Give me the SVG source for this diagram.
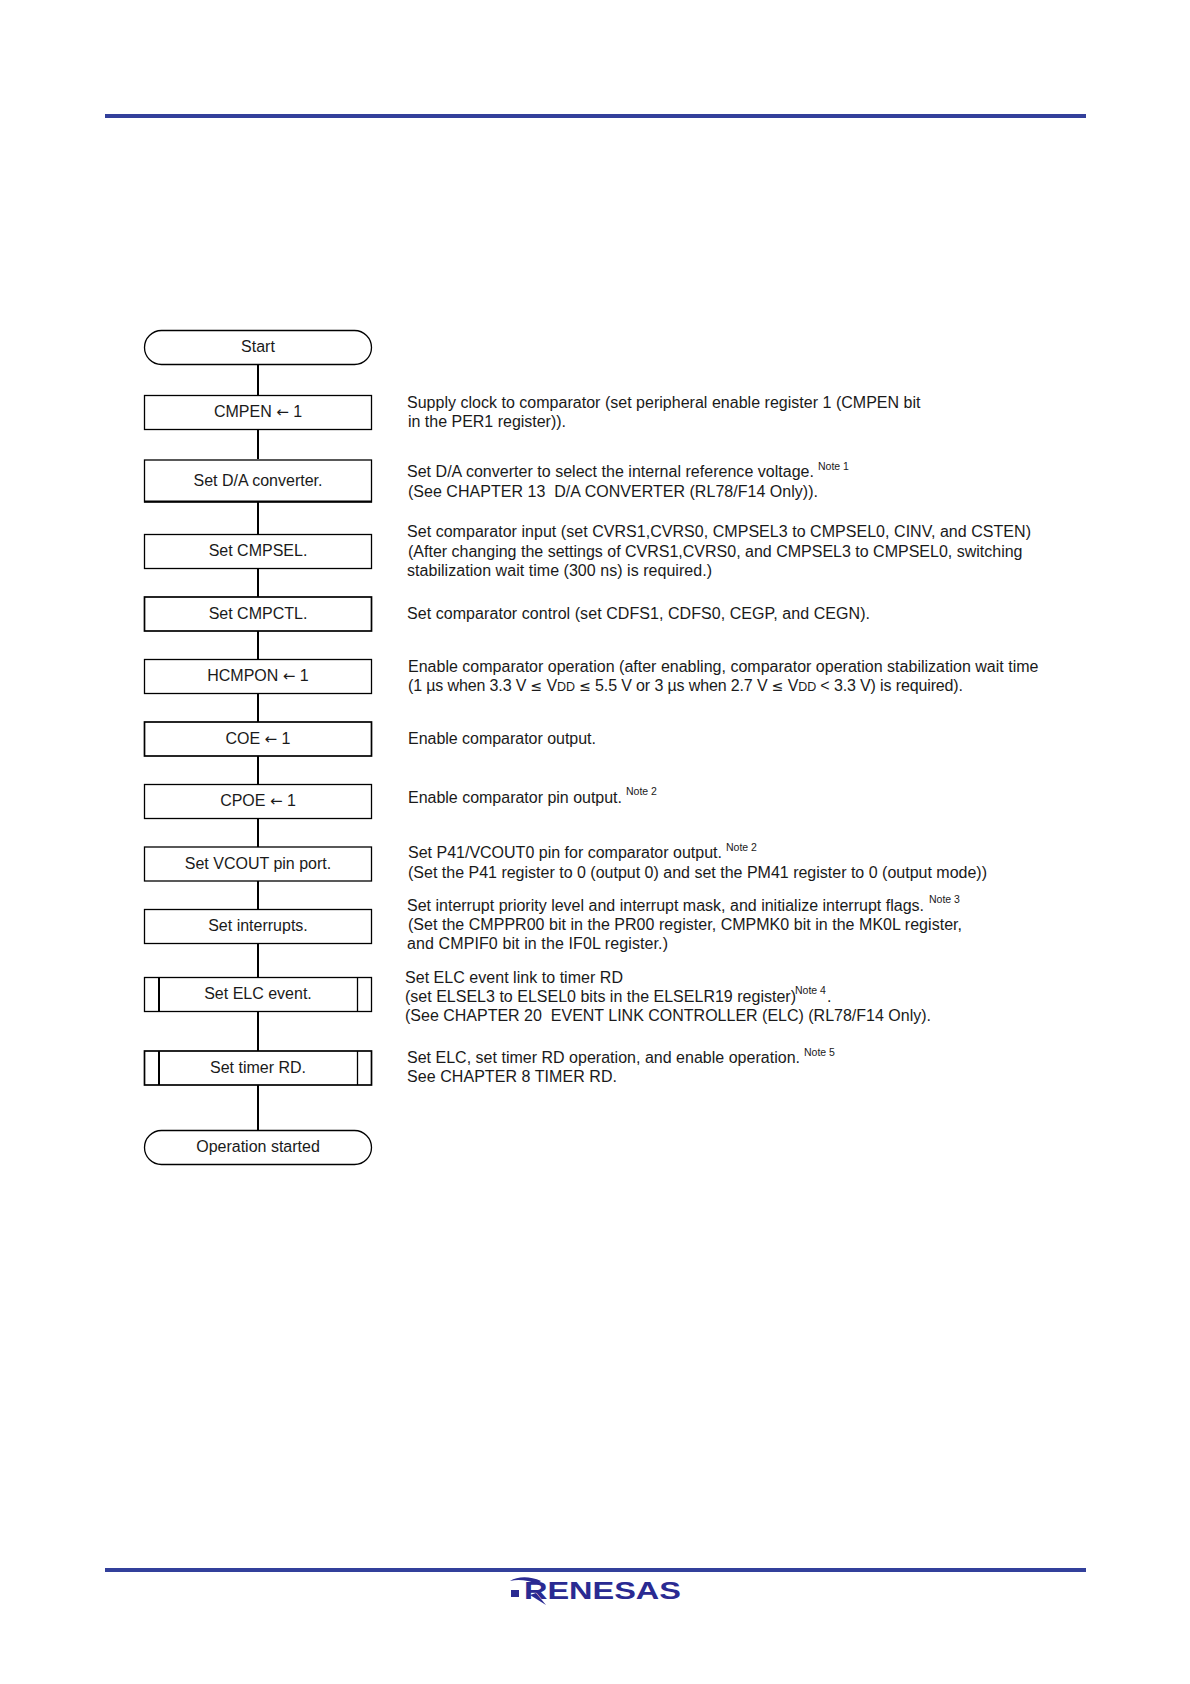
<svg xmlns="http://www.w3.org/2000/svg" width="1190" height="1684" viewBox="0 0 1190 1684">
<style>
text{font-family:"Liberation Sans",Arial,sans-serif;fill:#1a1a1a;white-space:pre}
.n rect{fill:#fff;stroke:#000;stroke-width:1.3}
.n.t rect{stroke-width:1.7}
.n line{stroke:#000;stroke-width:1.3}
.n line.h{stroke-width:2}
.n text{font-size:16px;text-anchor:middle}
.a text{font-size:16px}
.a text.s{font-size:10.5px}
.a tspan.d{font-size:12.5px}
tspan.le{font-family:"DejaVu Sans",sans-serif;font-size:14px}
tspan.ar{font-family:"DejaVu Sans",sans-serif;font-size:15px}
#connectors line{stroke:#000;stroke-width:2}
.rule{fill:#33409b}
.logo{fill:#2a2a92}
</style>
<rect width="1190" height="1684" fill="#fff"/>
<rect class="rule" x="105" y="114" width="981" height="4"/>
<rect class="rule" x="105" y="1568" width="981" height="4"/>
<g id="connectors">
<line x1="258" y1="364" x2="258" y2="395"/>
<line x1="258" y1="429" x2="258" y2="459"/>
<line x1="258" y1="502" x2="258" y2="534"/>
<line x1="258" y1="568" x2="258" y2="597"/>
<line x1="258" y1="631" x2="258" y2="659"/>
<line x1="258" y1="693" x2="258" y2="722"/>
<line x1="258" y1="756" x2="258" y2="784"/>
<line x1="258" y1="818" x2="258" y2="847"/>
<line x1="258" y1="881" x2="258" y2="910"/>
<line x1="258" y1="943" x2="258" y2="977"/>
<line x1="258" y1="1011" x2="258" y2="1051"/>
<line x1="258" y1="1085" x2="258" y2="1130"/>
</g>
<g id="start" class="n"><rect x="144.5" y="330.5" width="227" height="34" rx="17"/><text x="258" y="352">Start</text></g>
<g id="cmpen" class="n"><rect x="144.5" y="395.5" width="227" height="34"/><text x="258" y="417">CMPEN <tspan class="ar">←</tspan> 1</text></g>
<g id="set-da" class="n"><rect x="144.5" y="460" width="227" height="42"/><line class="h" x1="144" y1="501.5" x2="372" y2="501.5"/><text x="258" y="486">Set D/A converter.</text></g>
<g id="set-cmpsel" class="n"><rect x="144.5" y="534.5" width="227" height="34"/><text x="258" y="556">Set CMPSEL.</text></g>
<g id="set-cmpctl" class="n t"><rect x="144.5" y="597" width="227" height="34"/><text x="258" y="619">Set CMPCTL.</text></g>
<g id="hcmpon" class="n"><rect x="144.5" y="659.5" width="227" height="34"/><text x="258" y="681">HCMPON <tspan class="ar">←</tspan> 1</text></g>
<g id="coe" class="n t"><rect x="144.5" y="722" width="227" height="34"/><text x="258" y="744">COE <tspan class="ar">←</tspan> 1</text></g>
<g id="cpoe" class="n"><rect x="144.5" y="784.5" width="227" height="34"/><text x="258" y="806">CPOE <tspan class="ar">←</tspan> 1</text></g>
<g id="set-vcout" class="n"><rect x="144.5" y="847" width="227" height="34"/><text x="258" y="869">Set VCOUT pin port.</text></g>
<g id="set-interrupts" class="n"><rect x="144.5" y="909.5" width="227" height="34"/><text x="258" y="931">Set interrupts.</text></g>
<g id="set-elc" class="n"><rect x="144.5" y="977.5" width="227" height="34"/><line class="h" x1="159" y1="977" x2="159" y2="1011"/><line x1="357.5" y1="977" x2="357.5" y2="1011"/><text x="258" y="999">Set ELC event.</text></g>
<g id="set-timer" class="n t"><rect x="144.5" y="1051" width="227" height="34"/><line class="h" x1="159" y1="1051" x2="159" y2="1085"/><line x1="357.5" y1="1051" x2="357.5" y2="1085"/><text x="258" y="1073">Set timer RD.</text></g>
<g id="op-started" class="n"><rect x="144.5" y="1130.5" width="227" height="34" rx="17"/><text x="258" y="1152">Operation started</text></g>
<g id="annotations" class="a">
<text x="407" y="408" textLength="513.5">Supply clock to comparator (set peripheral enable register 1 (CMPEN bit</text>
<text x="408" y="427" textLength="158">in the PER1 register)).</text>
<text x="407" y="477" textLength="407">Set D/A converter to select the internal reference voltage.</text>
<text class="s" x="818" y="470">Note 1</text>
<text x="408" y="497" textLength="410" xml:space="preserve">(See CHAPTER 13  D/A CONVERTER (RL78/F14 Only)).</text>
<text x="407" y="537" textLength="624">Set comparator input (set CVRS1,CVRS0, CMPSEL3 to CMPSEL0, CINV, and CSTEN)</text>
<text x="408" y="557" textLength="614.5">(After changing the settings of CVRS1,CVRS0, and CMPSEL3 to CMPSEL0, switching</text>
<text x="407" y="576" textLength="305">stabilization wait time (300 ns) is required.)</text>
<text x="407" y="619" textLength="463">Set comparator control (set CDFS1, CDFS0, CEGP, and CEGN).</text>
<text x="408" y="672" textLength="630.5">Enable comparator operation (after enabling, comparator operation stabilization wait time</text>
<text x="408" y="691" textLength="555">(1 µs when 3.3 V <tspan class="le">≤</tspan> V<tspan class="d">DD</tspan> <tspan class="le">≤</tspan> 5.5 V or 3 µs when 2.7 V <tspan class="le">≤</tspan> V<tspan class="d">DD</tspan> &lt; 3.3 V) is required).</text>
<text x="408" y="744" textLength="188">Enable comparator output.</text>
<text x="408" y="803" textLength="214">Enable comparator pin output.</text>
<text class="s" x="626" y="795">Note 2</text>
<text x="408" y="858" textLength="314">Set P41/VCOUT0 pin for comparator output.</text>
<text class="s" x="726" y="851">Note 2</text>
<text x="408" y="878" textLength="579">(Set the P41 register to 0 (output 0) and set the PM41 register to 0 (output mode))</text>
<text x="407" y="910.5" textLength="517">Set interrupt priority level and interrupt mask, and initialize interrupt flags.</text>
<text class="s" x="929" y="903">Note 3</text>
<text x="408" y="930" textLength="554">(Set the CMPPR00 bit in the PR00 register, CMPMK0 bit in the MK0L register,</text>
<text x="407" y="949" textLength="261">and CMPIF0 bit in the IF0L register.)</text>
<text x="405" y="983" textLength="218">Set ELC event link to timer RD</text>
<text x="405" y="1002" textLength="391">(set ELSEL3 to ELSEL0 bits in the ELSELR19 register)</text>
<text class="s" x="795" y="994">Note 4</text>
<text x="827" y="1002">.</text>
<text x="405" y="1021" textLength="526" xml:space="preserve">(See CHAPTER 20  EVENT LINK CONTROLLER (ELC) (RL78/F14 Only).</text>
<text x="407" y="1063" textLength="393">Set ELC, set timer RD operation, and enable operation.</text>
<text class="s" x="804" y="1056">Note 5</text>
<text x="407" y="1082" textLength="210">See CHAPTER 8 TIMER RD.</text>
</g>
<g id="logo">
<rect class="logo" x="511" y="1590" width="8" height="7"/>
<path class="logo" d="M510 1581C518 1576 530 1576 541 1581L537 1584C528 1580 518 1579 510 1581Z"/>
<path class="logo" d="M530 1595L536 1593L546 1605Z"/>
<text x="524" y="1599" font-size="23.5" font-weight="700" textLength="157" lengthAdjust="spacingAndGlyphs" style="fill:#2a2a92">RENESAS</text>
</g>
</svg>
